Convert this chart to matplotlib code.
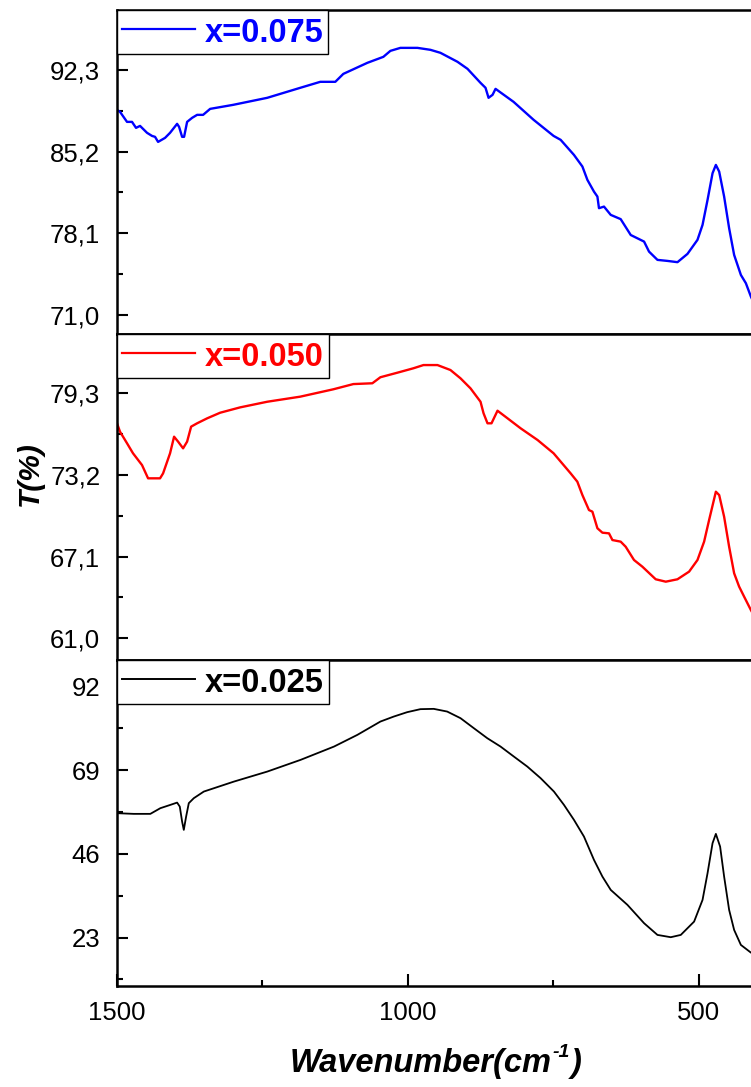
import matplotlib
matplotlib.use("Agg")
import matplotlib.pyplot as plt
from matplotlib.font_manager import FontProperties

# ---------------- data ----------------
wn_075 = [1500, 1494.8, 1482.8, 1474.2, 1467.3, 1460.4, 1448.4, 1439.8, 1434.6, 1429.4,
          1417.4, 1408.8, 1396.7, 1393.3, 1388.1, 1384.7, 1379.5, 1370.9, 1362.3, 1352.0,
          1339.9, 1300.3, 1241.8, 1185.0, 1150.6, 1124.8, 1111.0, 1069.7, 1042.2, 1030.1,
          1012.9, 983.6, 961.3, 944.1, 914.8, 897.6, 875.2, 866.6, 861.4, 854.5,
          849.4, 818.4, 784.0, 749.6, 737.5, 714.6, 700.1, 691.5, 680.2, 674.3,
          671.6, 663.0, 651.4, 634.3, 617.0, 594.1, 585.6, 571.1, 553.9, 536.7,
          519.5, 502.3, 493.6, 485.0, 476.4, 470.7, 465.0, 456.5, 447.9, 439.3,
          427.7, 419.1, 410.5, 404.0]
t_075 = [88.82, 88.65, 87.78, 87.78, 87.26, 87.43, 86.83, 86.56, 86.48, 86.04,
         86.39, 86.83, 87.61, 87.35, 86.48, 86.48, 87.78, 88.13, 88.39, 88.39,
         88.91, 89.26, 89.87, 90.74, 91.26, 91.26, 91.95, 92.91, 93.43, 93.95,
         94.21, 94.21, 94.04, 93.78, 93.00, 92.39, 91.17, 90.74, 89.87, 90.13,
         90.65, 89.52, 87.96, 86.56, 86.22, 84.91, 83.90, 82.74, 81.72, 81.29,
         80.28, 80.42, 79.70, 79.33, 77.95, 77.38, 76.51, 75.79, 75.70, 75.59,
         76.31, 77.53, 78.83, 81.00, 83.32, 84.04, 83.46, 81.29, 78.54, 76.22,
         74.48, 73.76, 72.60, 71.9]

wn_050 = [1500, 1494.8, 1482.8, 1472.5, 1457.0, 1446.6, 1426.0, 1420.8, 1408.8, 1401.9,
          1395.0, 1386.4, 1379.5, 1372.6, 1362.3, 1345.1, 1322.7, 1288.3, 1241.8, 1185.0,
          1128.2, 1093.8, 1061.1, 1047.3, 1018.1, 990.5, 973.3, 949.2, 926.9, 909.6,
          892.4, 875.2, 870.0, 863.2, 856.3, 846.0, 828.7, 806.4, 777.1, 749.6,
          720.3, 708.8, 700.1, 688.8, 682.9, 674.3, 665.7, 654.4, 648.5, 634.3,
          625.7, 611.4, 597.0, 574.1, 556.8, 536.7, 516.7, 502.3, 490.9, 482.3,
          470.7, 465.0, 456.5, 447.9, 439.3, 430.7, 422.1, 410.5, 404.0]
t_050 = [77.06, 76.43, 75.57, 74.82, 73.94, 72.95, 72.95, 73.32, 74.82, 76.06,
         75.69, 75.19, 75.69, 76.81, 77.06, 77.43, 77.85, 78.25, 78.67, 79.05,
         79.60, 79.99, 80.05, 80.50, 80.84, 81.17, 81.41, 81.41, 81.04, 80.42,
         79.67, 78.67, 77.81, 77.06, 77.06, 78.00, 77.43, 76.69, 75.81, 74.82,
         73.32, 72.70, 71.70, 70.58, 70.46, 69.22, 68.89, 68.84, 68.34, 68.22,
         67.84, 66.85, 66.35, 65.41, 65.23, 65.41, 65.98, 66.85, 68.22, 69.84,
         71.95, 71.70, 70.08, 67.84, 65.86, 64.86, 64.11, 63.11, 62.6]

wn_025 = [1500, 1471.3, 1442.7, 1425.5, 1408.3, 1396.7, 1392.1, 1388.1, 1385.2, 1381.2,
          1376.6, 1368.0, 1350.8, 1299.1, 1241.8, 1184.5, 1127.0, 1086.9, 1047.3, 1024.4,
          1001.3, 978.5, 955.6, 932.5, 909.6, 886.7, 863.6, 840.8, 817.9, 794.8,
          771.9, 749.0, 731.8, 714.6, 697.4, 680.2, 665.7, 651.4, 622.7, 594.1,
          571.1, 548.2, 531.0, 508.1, 493.6, 485.0, 476.4, 470.7, 463.4, 456.5,
          447.9, 439.3, 427.7, 410.5, 404.0]
t_025 = [57.20, 57.01, 57.01, 58.57, 59.48, 60.11, 59.01, 54.89, 52.61, 56.26,
         59.95, 61.32, 63.14, 65.88, 68.63, 71.85, 75.51, 78.72, 82.38, 83.75,
         84.96, 85.79, 85.87, 85.13, 83.31, 80.56, 77.81, 75.51, 72.76, 70.01,
         66.82, 63.14, 59.48, 55.36, 50.77, 44.36, 39.77, 36.11, 32.00, 26.96,
         23.74, 23.11, 23.74, 27.40, 33.36, 40.70, 48.95, 51.51, 48.02, 39.77,
         30.61, 25.11, 20.99, 18.88, 18.4]

labels = ["x=0.075", "x=0.050", "x=0.025"]
colors = ["#0000FF", "#FF0000", "#000000"]

yticks_top = [71.0, 78.1, 85.2, 92.3]
yticks_mid = [61.0, 67.1, 73.2, 79.3]
yticks_bot = [23, 46, 69, 92]
ylabels_top = ["71,0", "78,1", "85,2", "92,3"]
ylabels_mid = ["61,0", "67,1", "73,2", "79,3"]
ylabels_bot = ["23", "46", "69", "92"]
xticks = [1500, 1000, 500]
xticklabels = ["1500", "1000", "500"]
xminor = [1250, 750]

# ---------------- style ----------------
plt.rcParams['font.family'] = ['Liberation Sans', 'DejaVu Sans']

W, H = 751, 1087
fig = plt.figure(figsize=(W / 100, H / 100), dpi=100)

left = 117 / W
width = (757 - 117) / W
panels_px = [(10, 334), (334, 660), (660, 986)]
ylims = [(69.35, 97.5), (59.38, 83.73), (9.7, 99.3)]
majors = [yticks_top, yticks_mid, yticks_bot]
majlabels = [ylabels_top, ylabels_mid, ylabels_bot]
series = [(wn_075, t_075), (wn_050, t_050), (wn_025, t_025)]
lws = [1.7, 1.7, 1.3]

leg_font = FontProperties(family='Liberation Sans', weight='bold', size=23.5)

for i, (top_px, bot_px) in enumerate(panels_px):
    ax = fig.add_axes([left, 1 - bot_px / H, width, (bot_px - top_px) / H])
    wn, tv = series[i]
    ax.plot(wn, tv, color=colors[i], lw=lws[i], label=labels[i])
    ax.set_xlim(1500, 400)
    ax.set_ylim(*ylims[i])
    mj = majors[i]
    step = mj[1] - mj[0]
    minors = [m + step / 2 for m in [mj[0] - step] + mj]
    minors = [m for m in minors if ylims[i][0] < m < ylims[i][1]]
    ax.set_yticks(mj)
    ax.set_yticklabels(majlabels[i])
    ax.set_yticks(minors, minor=True)
    ax.tick_params(axis='y', which='major', direction='in', length=8, width=1.5,
                   pad=12, labelsize=18.5, right=False)
    ax.tick_params(axis='y', which='minor', direction='in', length=4, width=1.5, right=False)
    for s in ax.spines.values():
        s.set_linewidth(1.8)
    if i < 2:
        ax.set_xticks([])
        ax.tick_params(axis='x', which='both', bottom=False, top=False, labelbottom=False)
    else:
        ax.set_xticks(xticks)
        ax.set_xticklabels(xticklabels)
        ax.set_xticks(xminor, minor=True)
        ax.tick_params(axis='x', which='major', direction='in', length=8.5, width=1.5,
                       pad=10.5, labelsize=18.5, top=False)
        ax.tick_params(axis='x', which='minor', direction='in', length=4.5, width=1.5, top=False)
    leg = ax.legend(loc='upper left', bbox_to_anchor=(0, 1), borderaxespad=0,
                    frameon=True, fancybox=False, edgecolor='black', framealpha=1,
                    prop=leg_font, handlelength=2.24, handletextpad=0.3,
                    borderpad=0.15, handleheight=1.15)
    leg.get_frame().set_linewidth(1.0)
    for txt in leg.get_texts():
        txt.set_color(colors[i])
    for ln in leg.get_lines():
        ln.set_linewidth(1.6 if i < 2 else 1.4)

fig.text(30 / W, 1 - 474 / H, "T(%)", rotation=90, ha='center', va='center',
         fontsize=21.5, fontweight='bold', fontstyle='italic')

# x label with a short-hyphen superscript, centred on x = 436 px
renderer = fig.canvas.get_renderer()
base_y = 1 - 1072 / H
lab_kw = dict(fontweight='bold', fontstyle='italic', va='baseline', ha='left')
t1 = fig.text(0, base_y, "Wavenumber(cm", fontsize=23.5, **lab_kw)
bb1 = t1.get_window_extent(renderer)
t2 = fig.text(0, 1 - 1057 / H, "-1", fontsize=14, **lab_kw)
bb2 = t2.get_window_extent(renderer)
t3 = fig.text(0, base_y, ")", fontsize=23.5, **lab_kw)
bb3 = t3.get_window_extent(renderer)
total = bb1.width + 1 + bb2.width + 1 + bb3.width
x0 = 436 - total / 2
t1.set_x(x0 / W)
t2.set_x((x0 + bb1.width + 1) / W)
t3.set_x((x0 + bb1.width + 1 + bb2.width + 1) / W)

fig.savefig("out.png", dpi=100)
